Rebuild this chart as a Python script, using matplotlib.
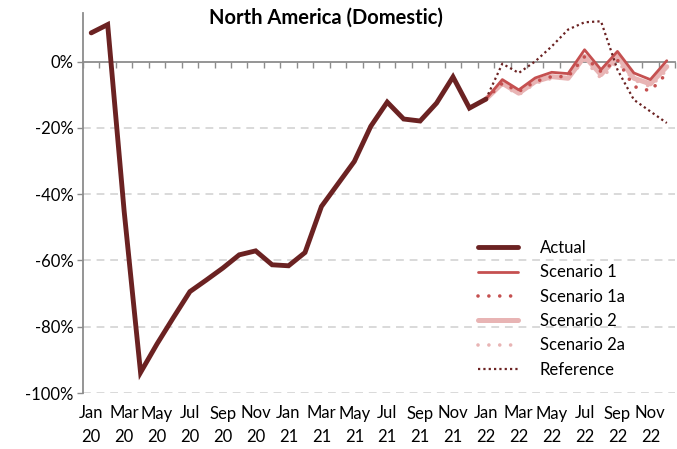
import matplotlib
matplotlib.use('Agg')
import matplotlib.pyplot as plt
import numpy as np

plt.rcParams['font.family'] = ['Lato', 'DejaVu Sans']

# monthly change vs 2019, Jan 20 .. Dec 22 (%)
months = ['Jan', 'Feb', 'Mar', 'Apr', 'May', 'Jun',
          'Jul', 'Aug', 'Sep', 'Oct', 'Nov', 'Dec']
years = ['20', '21', '22']

actual = [8.7, 11.2, -45.0, -93.8, -85.2, -77.2, -69.4, -65.9, -62.3, -58.3,
          -57.1, -61.3, -61.6, -57.6, -43.7, -36.9, -30.1, -19.5, -12.2, -17.3,
          -17.9, -12.5, -4.6, -14.0, -11.3]
# forecasts run Jan 22 .. Dec 22
scenario_1 = [-11.3, -5.4, -8.5, -4.9, -3.2, -3.6, 3.6, -2.4, 3.1, -3.4, -5.4, 0.3]
scenario_1a = [-11.3, -6.5, -9.0, -6.0, -4.5, -4.5, 1.5, -3.0, 0.5, -7.5, -8.8, -3.5]
scenario_2 = [-11.3, -6.5, -9.5, -6.0, -4.5, -5.0, 1.6, -3.9, 1.6, -5.0, -6.7, -1.5]
scenario_2a = [-11.3, -7.0, -10.0, -6.5, -5.0, -5.0, 0.5, -5.0, 0.0, -5.5, -7.5, -2.5]
reference = [-11.3, -0.6, -3.4, 0.1, 4.6, 9.7, 11.9, 12.2, -2.4, -11.5, -15.0, -18.5]

labels = [f'{m}\n{y}' for y in years for m in months]
x_all = np.arange(len(labels))
x_act = x_all[:len(actual)]
x_fc = x_all[len(actual) - 1:]

dark = '#6B2222'
red = '#C55050'
pink = '#E8B4B4'
axis_grey = '#8C8C8C'

fig = plt.figure(figsize=(6.77, 4.49), dpi=100)
ax = fig.add_axes([83 / 677, 1 - 393 / 449, 592 / 677, (393 - 13) / 449])

ax.plot(x_fc, np.array(scenario_2) / 100, color=pink, lw=3.6,
        solid_capstyle='round', label='Scenario 2', zorder=2)
ax.plot(x_fc, np.array(scenario_2a) / 100, color=pink, lw=2.6,
        ls=(0, (0.01, 3.0)), dash_capstyle='round', label='Scenario 2a', zorder=3)
ax.plot(x_fc, np.array(scenario_1) / 100, color=red, lw=2.0,
        solid_capstyle='round', label='Scenario 1', zorder=4)
ax.plot(x_fc, np.array(scenario_1a) / 100, color=red, lw=2.6,
        ls=(0, (0.01, 3.0)), dash_capstyle='round', label='Scenario 1a', zorder=5)
ax.plot(x_act, np.array(actual) / 100, color=dark, lw=3.5,
        solid_capstyle='round', solid_joinstyle='miter', label='Actual', zorder=6)
ax.plot(x_fc, np.array(reference) / 100, color=dark, lw=1.6,
        ls=(0, (1, 1.4)), label='Reference', zorder=7)

ax.set_xlim(-0.5, len(labels) - 0.5)
ax.set_ylim(-1.0, 0.147)

# y axis
yt = [-1.0, -0.8, -0.6, -0.4, -0.2, 0.0]
ax.set_yticks(yt)
ax.set_yticklabels([f'{round(v * 100):d}%' for v in yt])
ax.tick_params(axis='y', length=4, width=1, color=axis_grey, labelsize=12,
               pad=3, direction='out')
for v in yt[:-1]:
    ax.axhline(v, color='#D9D9D9', lw=1.4, ls=(0, (4, 3)), zorder=0)

for s in ['top', 'right', 'bottom']:
    ax.spines[s].set_visible(False)
ax.spines['left'].set_color(axis_grey)
ax.spines['left'].set_linewidth(1.3)

# month labels along the bottom
ax.set_xticks(x_all[::2])
ax.set_xticklabels(labels[::2], fontsize=12, linespacing=1.6)
ax.tick_params(axis='x', length=0, pad=9)

# category axis crossing at zero
zero_axis = ax.secondary_xaxis(0, transform=ax.transData)
zero_axis.set_xticks(np.arange(-0.5, len(labels), 1.0))
zero_axis.set_xticklabels([])
zero_axis.tick_params(length=4, width=1, color=axis_grey, direction='out')
zero_axis.spines['bottom'].set_color(axis_grey)
zero_axis.spines['bottom'].set_linewidth(1.3)

handles, names = ax.get_legend_handles_labels()
order = ['Actual', 'Scenario 1', 'Scenario 1a', 'Scenario 2', 'Scenario 2a', 'Reference']
hmap = dict(zip(names, handles))
ax.legend([hmap[n] for n in order], order, loc='upper left',
          bbox_to_anchor=(478 / 677, 1 - 240 / 449), bbox_transform=fig.transFigure,
          frameon=False, fontsize=12, handlelength=2.4, handletextpad=1.3,
          labelspacing=0.5, borderaxespad=0, borderpad=0)

fig.text(326 / 677, 1 - 18 / 449, 'North America (Domestic)', ha='center',
         va='center', fontsize=14.5, fontweight='bold')

fig.savefig('out.png', dpi=100)
